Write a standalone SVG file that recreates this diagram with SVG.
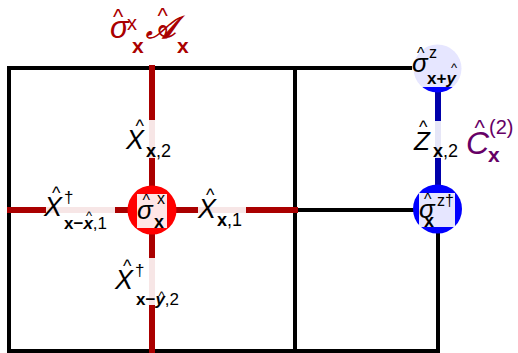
<svg xmlns="http://www.w3.org/2000/svg" width="518" height="353" viewBox="0 0 518 353">
<style>
.t{font-family:"Liberation Sans",Arial,sans-serif;}
.i{font-style:italic;}
.b{font-weight:bold;}
.bg{fill:#fff;fill-opacity:0.9;}
.lat{stroke:#000;stroke-width:4;fill:none;stroke-linecap:square;}
</style>
<rect width="518" height="353" fill="#fff"/>
<g id="connectors">
<rect class="lat" x="9" y="68" width="429" height="283"/>
<path class="lat" d="M295 68V351M9 210H438"/>
<path d="M7 210H298M152 65V353" stroke="#aa0000" stroke-width="6" fill="none"/>
<path d="M438 80V200" stroke="#0000aa" stroke-width="6" fill="none"/>
</g>
<g id="center" class="t">
<circle cx="152" cy="210" r="24.5" fill="#ff0000"/>
<rect class="bg" x="137" y="194" width="30" height="34"/>
<text x="137" y="219" font-size="26" class="i">σ</text>
<text x="142.5" y="206" font-size="16">^</text>
<text x="157" y="204" font-size="16">x</text>
<text x="154" y="228" font-size="18" class="b">x</text>
</g>
<g id="top-right" class="t">
<circle cx="437.5" cy="68.5" r="24" fill="#0000ff"/>
<rect class="bg" x="412" y="40" width="51" height="47"/>
<text x="412" y="72" font-size="26" class="i">σ</text>
<text x="417" y="59" font-size="16">^</text>
<text x="429" y="58" font-size="16">z</text>
<text x="427" y="84" font-size="17" class="b">x+<tspan class="i">y</tspan></text>
<text x="451" y="72" font-size="13">^</text>
</g>
<g id="bottom-right" class="t">
<circle cx="437.5" cy="209" r="24.5" fill="#0000ff"/>
<rect class="bg" x="419" y="193" width="36" height="34"/>
<text x="419" y="218" font-size="26" class="i">σ</text>
<text x="424" y="205" font-size="16">^</text>
<text x="437" y="206" font-size="16">z†</text>
<text x="424" y="227" font-size="18" class="b">x</text>
</g>
<g id="label-x2" class="t">
<rect class="bg" x="126" y="120" width="48" height="38"/>
<text x="126" y="149" font-size="27" class="i">X</text>
<text x="135.5" y="132" font-size="18">^</text>
<text x="146" y="157" font-size="18"><tspan class="b">x</tspan>,2</text>
</g>
<g id="label-x1" class="t">
<rect class="bg" x="198" y="196" width="48" height="34"/>
<text x="198" y="218" font-size="27" class="i">X</text>
<text x="206" y="201" font-size="18">^</text>
<text x="217" y="226" font-size="18"><tspan class="b">x</tspan>,1</text>
</g>
<g id="label-xdag1" class="t">
<rect class="bg" x="46" y="194" width="69" height="38"/>
<text x="44" y="216" font-size="27" class="i">X</text>
<text x="52" y="199" font-size="18">^</text>
<text x="64" y="203" font-size="17">†</text>
<text x="64" y="229" font-size="17"><tspan class="b">x−<tspan class="i">x</tspan></tspan>,1</text>
<text x="86" y="220" font-size="13">^</text>
</g>
<g id="label-xdag2" class="t">
<rect class="bg" x="117" y="258" width="67" height="47"/>
<text x="115" y="289" font-size="27" class="i">X</text>
<text x="123" y="272" font-size="18">^</text>
<text x="135" y="276" font-size="17">†</text>
<text x="136" y="305" font-size="17"><tspan class="b">x−<tspan class="i">y</tspan></tspan>,2</text>
<text x="158.5" y="300" font-size="13">^</text>
</g>
<g id="label-z2" class="t">
<rect class="bg" x="416" y="121" width="42" height="37"/>
<text x="414" y="150" font-size="26" class="i">Z</text>
<text x="419" y="133" font-size="18">^</text>
<text x="433" y="157" font-size="18"><tspan class="b">x</tspan>,2</text>
</g>
<g id="label-C" class="t" fill="#660066">
<text x="466" y="154" font-size="32" class="i">C</text>
<text x="474.5" y="135" font-size="22">^</text>
<text x="489" y="134" font-size="20">(2)</text>
<text x="488" y="162" font-size="21" class="b">x</text>
</g>
<g id="label-A" class="t" fill="#aa0000">
<text x="110" y="38" font-size="31" class="i">σ</text>
<text x="113" y="24" font-size="22">^</text>
<text x="127" y="30" font-size="20">x</text>
<text x="132" y="53" font-size="21" class="b">x</text>
<text x="146" y="38" font-size="31" class="i" stroke="#aa0000" stroke-width="1">𝒜</text>
<text x="157.5" y="23" font-size="22">^</text>
<text x="177" y="53" font-size="21" class="b">x</text>
</g>
</svg>
